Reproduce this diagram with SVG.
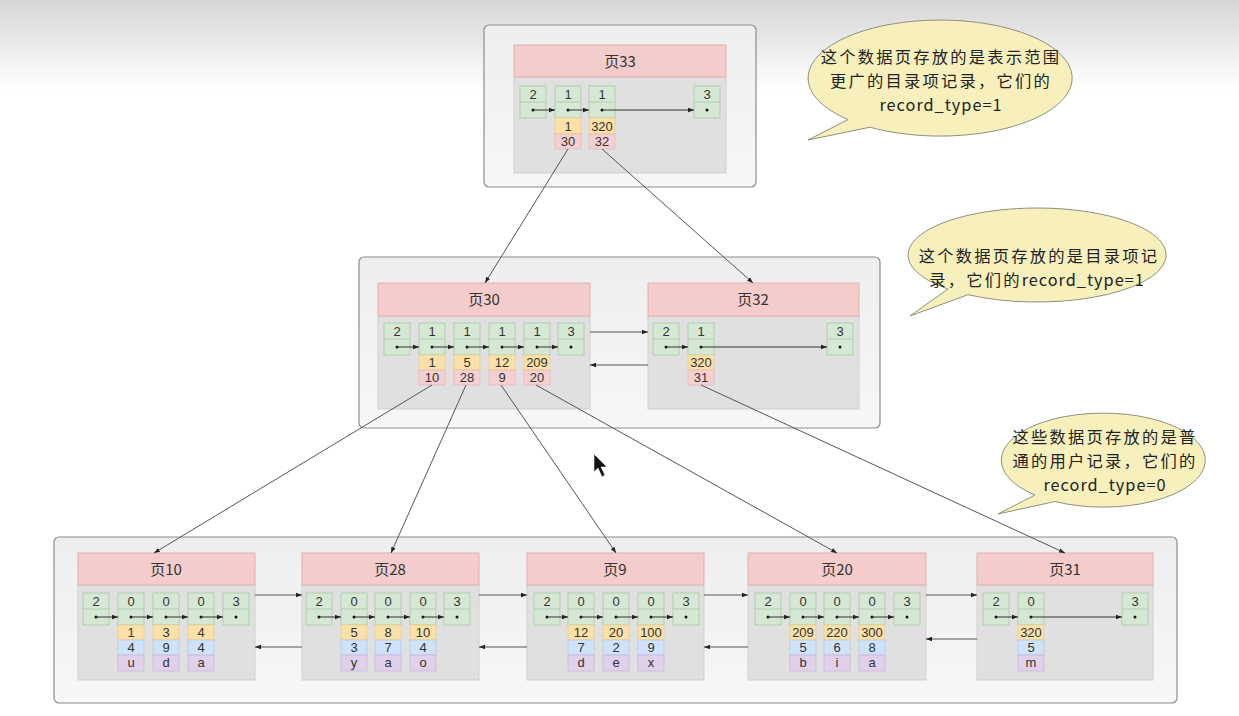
<svg xmlns="http://www.w3.org/2000/svg" xmlns:xlink="http://www.w3.org/1999/xlink" width="1239" height="716" viewBox="0 0 1239 716">
<style>
.t{font-family:"Liberation Sans",Arial,sans-serif;fill:#333;text-anchor:middle}
.n{font-size:13px}
.h{font-family:"Noto Sans CJK SC","Noto Sans",sans-serif;font-size:15px;fill:#333;text-anchor:middle}
.c{font-family:"Noto Sans CJK SC","Noto Sans",sans-serif;font-size:16.3px;letter-spacing:2.2px;fill:#222;text-anchor:middle}
.c2{letter-spacing:1px}
.box{fill:url(#boxg);stroke:#8c8c8c;stroke-width:1.2}
.hd{fill:#f4cccc;stroke:#e2b0b0;stroke-width:1}
.bd{fill:#e0e0e0;stroke:#cfcfcf;stroke-width:1}
.y{fill:#fbe0a8;stroke:#e9c98a;stroke-width:.6}
.p{fill:#f6cfd0;stroke:#e2b0b2;stroke-width:.6}
.b{fill:#cfe2f8;stroke:#a9c5e6;stroke-width:.6}
.v{fill:#e0d0ea;stroke:#c2aed2;stroke-width:.6}
.l{fill:none;stroke:#333;stroke-width:1;marker-end:url(#ah)}
.k{fill:none;stroke:#555;stroke-width:1;marker-end:url(#ah)}
.bub{fill:#f7f0bc;stroke:#8f8f7a;stroke-width:1}
</style>
<defs>
<linearGradient id="bg" x1="0" y1="0" x2="0" y2="1">
<stop offset="0" stop-color="#d6d6d6"/>
<stop offset="1" stop-color="#ffffff"/>
</linearGradient>
<linearGradient id="boxg" x1="0" y1="0" x2="0" y2="1">
<stop offset="0" stop-color="#eeeeee"/>
<stop offset="1" stop-color="#f7f7f7"/>
</linearGradient>
<marker id="ah" viewBox="0 0 8 8" refX="8" refY="4" markerWidth="6" markerHeight="6" orient="auto" markerUnits="userSpaceOnUse">
<path d="M0,1 L8,4 L0,7 z" fill="#222"/>
</marker>
<g id="rec">
<rect x="0" y="0" width="26" height="32" fill="#d5e8d4" stroke="#a9c7a6" stroke-width=".8"/>
<line x1="0" y1="16" x2="26" y2="16" stroke="#a9c7a6" stroke-width=".8"/>
<circle cx="13" cy="24" r="1.5" fill="#111"/>
</g>
</defs>
<rect x="0" y="0" width="1239" height="90" fill="url(#bg)"/>

<!-- containers -->
<rect class="box" x="484" y="25" width="272" height="162" rx="5"/>
<rect class="box" x="359" y="257" width="521" height="171" rx="5"/>
<rect class="box" x="54" y="537" width="1123" height="166" rx="5"/>

<!-- page33 -->
<g id="page33">
<rect class="bd" x="514" y="77" width="212" height="96"/>
<rect class="hd" x="514" y="45" width="212" height="32"/>
<text class="h" x="620" y="67">页33</text>
<use xlink:href="#rec" x="520" y="86"/><use xlink:href="#rec" x="555" y="86"/><use xlink:href="#rec" x="589" y="86"/><use xlink:href="#rec" x="694" y="86"/>
<text class="t n" x="533" y="99">2</text><text class="t n" x="568" y="99">1</text><text class="t n" x="602" y="99">1</text><text class="t n" x="707" y="99">3</text>
<rect class="y" x="555" y="118" width="26" height="16"/><rect class="p" x="555" y="134" width="26" height="15"/>
<rect class="y" x="589" y="118" width="26" height="16"/><rect class="p" x="589" y="134" width="26" height="15"/>
<text class="t n" x="568" y="131">1</text><text class="t n" x="568" y="146">30</text>
<text class="t n" x="602" y="131">320</text><text class="t n" x="602" y="146">32</text>
<path class="l" d="M533,110 H555"/><path class="l" d="M568,110 H589"/><path class="l" d="M602,110 H694"/>
</g>

<!-- page30 -->
<g id="page30">
<rect class="bd" x="378" y="316" width="212" height="93"/>
<rect class="hd" x="378" y="283" width="212" height="33"/>
<text class="h" x="484" y="305">页30</text>
<use xlink:href="#rec" x="384" y="323"/><use xlink:href="#rec" x="419" y="323"/><use xlink:href="#rec" x="454" y="323"/><use xlink:href="#rec" x="489" y="323"/><use xlink:href="#rec" x="524" y="323"/><use xlink:href="#rec" x="558" y="323"/>
<text class="t n" x="397" y="336">2</text><text class="t n" x="432" y="336">1</text><text class="t n" x="467" y="336">1</text><text class="t n" x="502" y="336">1</text><text class="t n" x="537" y="336">1</text><text class="t n" x="571" y="336">3</text>
<rect class="y" x="419" y="355" width="26" height="15"/><rect class="p" x="419" y="370" width="26" height="15"/>
<rect class="y" x="454" y="355" width="26" height="15"/><rect class="p" x="454" y="370" width="26" height="15"/>
<rect class="y" x="489" y="355" width="26" height="15"/><rect class="p" x="489" y="370" width="26" height="15"/>
<rect class="y" x="524" y="355" width="26" height="15"/><rect class="p" x="524" y="370" width="26" height="15"/>
<text class="t n" x="432" y="367">1</text><text class="t n" x="432" y="382">10</text>
<text class="t n" x="467" y="367">5</text><text class="t n" x="467" y="382">28</text>
<text class="t n" x="502" y="367">12</text><text class="t n" x="502" y="382">9</text>
<text class="t n" x="537" y="367">209</text><text class="t n" x="537" y="382">20</text>
<path class="l" d="M397,347 H419"/><path class="l" d="M432,347 H454"/><path class="l" d="M467,347 H489"/><path class="l" d="M502,347 H524"/><path class="l" d="M537,347 H558"/>
</g>

<!-- page32 -->
<g id="page32">
<rect class="bd" x="648" y="316" width="211" height="93"/>
<rect class="hd" x="648" y="283" width="211" height="33"/>
<text class="h" x="753" y="305">页32</text>
<use xlink:href="#rec" x="653" y="323"/><use xlink:href="#rec" x="688" y="323"/><use xlink:href="#rec" x="827" y="323"/>
<text class="t n" x="666" y="336">2</text><text class="t n" x="701" y="336">1</text><text class="t n" x="840" y="336">3</text>
<rect class="y" x="688" y="355" width="26" height="15"/><rect class="p" x="688" y="370" width="26" height="15"/>
<text class="t n" x="701" y="367">320</text><text class="t n" x="701" y="382">31</text>
<path class="l" d="M666,347 H688"/><path class="l" d="M701,347 H827"/>
</g>

<!-- page10 -->
<g id="page10">
<rect class="bd" x="78" y="585" width="177" height="95"/>
<rect class="hd" x="78" y="553" width="177" height="32"/>
<text class="h" x="166" y="575">页10</text>
<use xlink:href="#rec" x="83" y="593"/><use xlink:href="#rec" x="118" y="593"/><use xlink:href="#rec" x="153" y="593"/><use xlink:href="#rec" x="188" y="593"/><use xlink:href="#rec" x="223" y="593"/>
<text class="t n" x="96" y="606">2</text><text class="t n" x="131" y="606">0</text><text class="t n" x="166" y="606">0</text><text class="t n" x="201" y="606">0</text><text class="t n" x="236" y="606">3</text>
<rect class="y" x="118" y="625" width="26" height="15"/><rect class="b" x="118" y="640" width="26" height="15"/><rect class="v" x="118" y="655" width="26" height="16"/>
<rect class="y" x="153" y="625" width="26" height="15"/><rect class="b" x="153" y="640" width="26" height="15"/><rect class="v" x="153" y="655" width="26" height="16"/>
<rect class="y" x="188" y="625" width="26" height="15"/><rect class="b" x="188" y="640" width="26" height="15"/><rect class="v" x="188" y="655" width="26" height="16"/>
<text class="t n" x="131" y="637">1</text><text class="t n" x="131" y="652">4</text><text class="t n" x="131" y="667">u</text>
<text class="t n" x="166" y="637">3</text><text class="t n" x="166" y="652">9</text><text class="t n" x="166" y="667">d</text>
<text class="t n" x="201" y="637">4</text><text class="t n" x="201" y="652">4</text><text class="t n" x="201" y="667">a</text>
<path class="l" d="M96,617 H118"/><path class="l" d="M131,617 H153"/><path class="l" d="M166,617 H188"/><path class="l" d="M201,617 H223"/>
</g>

<!-- page28 -->
<g id="page28">
<rect class="bd" x="302" y="585" width="177" height="95"/>
<rect class="hd" x="302" y="553" width="177" height="32"/>
<text class="h" x="390" y="575">页28</text>
<use xlink:href="#rec" x="306" y="593"/><use xlink:href="#rec" x="341" y="593"/><use xlink:href="#rec" x="375" y="593"/><use xlink:href="#rec" x="410" y="593"/><use xlink:href="#rec" x="444" y="593"/>
<text class="t n" x="319" y="606">2</text><text class="t n" x="354" y="606">0</text><text class="t n" x="388" y="606">0</text><text class="t n" x="423" y="606">0</text><text class="t n" x="457" y="606">3</text>
<rect class="y" x="341" y="625" width="26" height="15"/><rect class="b" x="341" y="640" width="26" height="15"/><rect class="v" x="341" y="655" width="26" height="16"/>
<rect class="y" x="375" y="625" width="26" height="15"/><rect class="b" x="375" y="640" width="26" height="15"/><rect class="v" x="375" y="655" width="26" height="16"/>
<rect class="y" x="410" y="625" width="26" height="15"/><rect class="b" x="410" y="640" width="26" height="15"/><rect class="v" x="410" y="655" width="26" height="16"/>
<text class="t n" x="354" y="637">5</text><text class="t n" x="354" y="652">3</text><text class="t n" x="354" y="667">y</text>
<text class="t n" x="388" y="637">8</text><text class="t n" x="388" y="652">7</text><text class="t n" x="388" y="667">a</text>
<text class="t n" x="423" y="637">10</text><text class="t n" x="423" y="652">4</text><text class="t n" x="423" y="667">o</text>
<path class="l" d="M319,617 H341"/><path class="l" d="M354,617 H375"/><path class="l" d="M388,617 H410"/><path class="l" d="M423,617 H444"/>
</g>

<!-- page9 -->
<g id="page9">
<rect class="bd" x="527" y="585" width="177" height="95"/>
<rect class="hd" x="527" y="553" width="177" height="32"/>
<text class="h" x="615" y="575">页9</text>
<use xlink:href="#rec" x="534" y="593"/><use xlink:href="#rec" x="568" y="593"/><use xlink:href="#rec" x="603" y="593"/><use xlink:href="#rec" x="638" y="593"/><use xlink:href="#rec" x="673" y="593"/>
<text class="t n" x="547" y="606">2</text><text class="t n" x="581" y="606">0</text><text class="t n" x="616" y="606">0</text><text class="t n" x="651" y="606">0</text><text class="t n" x="686" y="606">3</text>
<rect class="y" x="568" y="625" width="26" height="15"/><rect class="b" x="568" y="640" width="26" height="15"/><rect class="v" x="568" y="655" width="26" height="16"/>
<rect class="y" x="603" y="625" width="26" height="15"/><rect class="b" x="603" y="640" width="26" height="15"/><rect class="v" x="603" y="655" width="26" height="16"/>
<rect class="y" x="638" y="625" width="26" height="15"/><rect class="b" x="638" y="640" width="26" height="15"/><rect class="v" x="638" y="655" width="26" height="16"/>
<text class="t n" x="581" y="637">12</text><text class="t n" x="581" y="652">7</text><text class="t n" x="581" y="667">d</text>
<text class="t n" x="616" y="637">20</text><text class="t n" x="616" y="652">2</text><text class="t n" x="616" y="667">e</text>
<text class="t n" x="651" y="637">100</text><text class="t n" x="651" y="652">9</text><text class="t n" x="651" y="667">x</text>
<path class="l" d="M547,617 H568"/><path class="l" d="M581,617 H603"/><path class="l" d="M616,617 H638"/><path class="l" d="M651,617 H673"/>
</g>

<!-- page20 -->
<g id="page20">
<rect class="bd" x="748" y="585" width="178" height="95"/>
<rect class="hd" x="748" y="553" width="178" height="32"/>
<text class="h" x="837" y="575">页20</text>
<use xlink:href="#rec" x="755" y="593"/><use xlink:href="#rec" x="790" y="593"/><use xlink:href="#rec" x="824" y="593"/><use xlink:href="#rec" x="859" y="593"/><use xlink:href="#rec" x="894" y="593"/>
<text class="t n" x="768" y="606">2</text><text class="t n" x="803" y="606">0</text><text class="t n" x="837" y="606">0</text><text class="t n" x="872" y="606">0</text><text class="t n" x="907" y="606">3</text>
<rect class="y" x="790" y="625" width="26" height="15"/><rect class="b" x="790" y="640" width="26" height="15"/><rect class="v" x="790" y="655" width="26" height="16"/>
<rect class="y" x="824" y="625" width="26" height="15"/><rect class="b" x="824" y="640" width="26" height="15"/><rect class="v" x="824" y="655" width="26" height="16"/>
<rect class="y" x="859" y="625" width="26" height="15"/><rect class="b" x="859" y="640" width="26" height="15"/><rect class="v" x="859" y="655" width="26" height="16"/>
<text class="t n" x="803" y="637">209</text><text class="t n" x="803" y="652">5</text><text class="t n" x="803" y="667">b</text>
<text class="t n" x="837" y="637">220</text><text class="t n" x="837" y="652">6</text><text class="t n" x="837" y="667">i</text>
<text class="t n" x="872" y="637">300</text><text class="t n" x="872" y="652">8</text><text class="t n" x="872" y="667">a</text>
<path class="l" d="M768,617 H790"/><path class="l" d="M803,617 H824"/><path class="l" d="M837,617 H859"/><path class="l" d="M872,617 H894"/>
</g>

<!-- page31 -->
<g id="page31">
<rect class="bd" x="977" y="585" width="176" height="95"/>
<rect class="hd" x="977" y="553" width="176" height="32"/>
<text class="h" x="1065" y="575">页31</text>
<use xlink:href="#rec" x="983" y="593"/><use xlink:href="#rec" x="1018" y="593"/><use xlink:href="#rec" x="1122" y="593"/>
<text class="t n" x="996" y="606">2</text><text class="t n" x="1031" y="606">0</text><text class="t n" x="1135" y="606">3</text>
<rect class="y" x="1018" y="625" width="26" height="15"/><rect class="b" x="1018" y="640" width="26" height="15"/><rect class="v" x="1018" y="655" width="26" height="16"/>
<text class="t n" x="1031" y="637">320</text><text class="t n" x="1031" y="652">5</text><text class="t n" x="1031" y="667">m</text>
<path class="l" d="M996,617 H1018"/><path class="l" d="M1031,617 H1122"/>
</g>

<!-- connectors -->
<g id="connectors">
<path class="k" d="M568,149 L485,283"/>
<path class="k" d="M602,149 L753,283"/>
<path class="k" d="M590,332 H648"/>
<path class="k" d="M648,365 H590"/>
<path class="k" d="M432,385 L154,553"/>
<path class="k" d="M466,385 L391,553"/>
<path class="k" d="M501,385 L616,553"/>
<path class="k" d="M536,385 L837,553"/>
<path class="k" d="M701,385 L1065,553"/>
<path class="k" d="M255,595 H302"/>
<path class="k" d="M479,595 H527"/>
<path class="k" d="M704,595 H748"/>
<path class="k" d="M926,595 H977"/>
<path class="k" d="M302,647 H255"/>
<path class="k" d="M527,647 H479"/>
<path class="k" d="M748,647 H704"/>
<path class="k" d="M977,639 H926"/>
</g>

<!-- callouts -->
<g id="callout1">
<path class="bub" d="M848,119.6 A132,58 0 1 1 870,127.2 L808,140 Z"/>
<text class="c" x="941" y="63">这个数据页存放的是表示范围</text>
<text class="c" x="941" y="87">更广的目录项记录，它们的</text>
<text class="c c2" x="941" y="111">record_type=1</text>
</g>
<g id="callout2">
<path class="bub" d="M948,289 A129,47 0 1 1 968,294.7 L910,316 Z"/>
<text class="c" x="1039" y="262">这个数据页存放的是目录项记</text>
<text class="c" x="1037" y="286">录，它们的<tspan class="c2">record_type=1</tspan></text>
</g>
<g id="callout3">
<path class="bub" d="M1035,495 A102,47 0 1 1 1055,501.5 L998,514 Z"/>
<text class="c" x="1105" y="443">这些数据页存放的是普</text>
<text class="c" x="1105" y="467">通的用户记录，它们的</text>
<text class="c c2" x="1105" y="491">record_type=0</text>
</g>

<!-- mouse cursor -->
<path d="M594,454 L594,472 L598,468 L602,477 L605,475 L601,467 L607,467 Z" fill="#111" stroke="#fff" stroke-width=".6"/>
</svg>
